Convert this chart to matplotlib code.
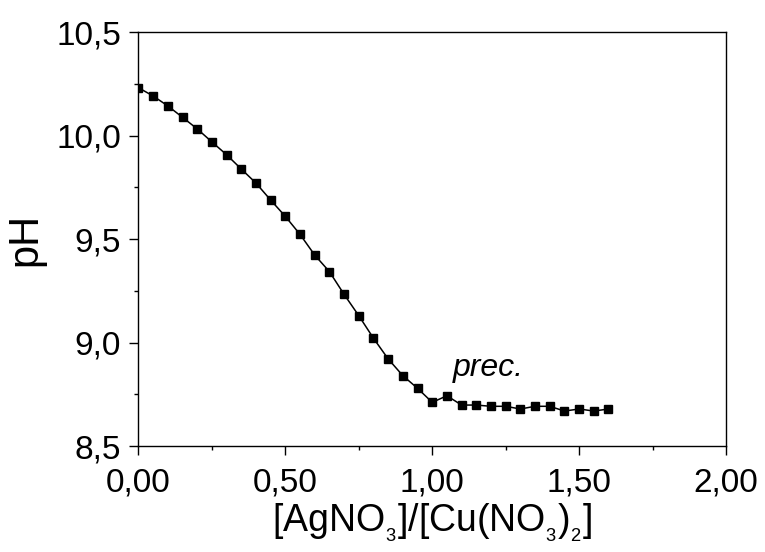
import matplotlib
matplotlib.use("Agg")
import matplotlib.pyplot as plt
from matplotlib.ticker import MultipleLocator, FixedLocator, FixedFormatter

plt.rcParams['font.family'] = ['Liberation Sans', 'DejaVu Sans']
plt.rcParams['mathtext.fontset'] = 'custom'
plt.rcParams['mathtext.rm'] = 'Liberation Sans'
plt.rcParams['mathtext.default'] = 'regular'

ratio = [0.00, 0.05, 0.10, 0.15, 0.20, 0.25, 0.30, 0.35, 0.40, 0.45,
         0.50, 0.55, 0.60, 0.65, 0.70, 0.75, 0.80, 0.85, 0.90, 0.95,
         1.00, 1.05, 1.10, 1.15, 1.20, 1.25, 1.30, 1.35, 1.40, 1.45,
         1.50, 1.55, 1.60]
ph = [10.232, 10.192, 10.144, 10.089, 10.033, 9.970, 9.908, 9.839, 9.771, 9.689,
      9.610, 9.523, 9.423, 9.343, 9.233, 9.130, 9.021, 8.921, 8.840, 8.779,
      8.711, 8.743, 8.698, 8.698, 8.692, 8.692, 8.679, 8.692, 8.692, 8.669,
      8.679, 8.669, 8.679]

xticks = [0.0, 0.5, 1.0, 1.5, 2.0]
xticklabels = ['0,00', '0,50', '1,00', '1,50', '2,00']
yticks = [8.5, 9.0, 9.5, 10.0, 10.5]
yticklabels = ['8,5', '9,0', '9,5', '10,0', '10,5']

fig = plt.figure(figsize=(7.65, 5.52), dpi=100)
ax = fig.add_axes([0.181, 0.192, 0.768, 0.7495])

ax.plot(ratio, ph, color='black', lw=1.1, marker='s', markersize=6.2,
        markerfacecolor='black', markeredgecolor='black')

ax.set_xlim(0, 2.0)
ax.set_ylim(8.5, 10.5)
ax.xaxis.set_major_locator(FixedLocator(xticks))
ax.xaxis.set_major_formatter(FixedFormatter(xticklabels))
ax.yaxis.set_major_locator(FixedLocator(yticks))
ax.yaxis.set_major_formatter(FixedFormatter(yticklabels))
ax.xaxis.set_minor_locator(MultipleLocator(0.25))
ax.yaxis.set_minor_locator(MultipleLocator(0.25))

ax.tick_params(which='major', direction='out', length=6.5, width=1.0,
               labelsize=24, top=False, right=False)
ax.tick_params(which='minor', direction='out', length=3, width=1.0,
               top=False, right=False)
ax.tick_params(axis='x', which='major', pad=9)
ax.tick_params(axis='y', which='major', pad=6)

for s in ax.spines.values():
    s.set_linewidth(1.0)
    s.set_color('black')

ax.set_xlabel(r'[AgNO$_{_{3}}$]/[Cu(NO$_{_{3}}$)$_{_{2}}$]', fontsize=27, labelpad=2)
ax.set_ylabel('pH', fontsize=30, labelpad=8)

ax.text(1.07, 8.84, 'prec.', fontsize=23, style='italic', ha='left',
        va='baseline')

fig.savefig('out.png', dpi=100)
